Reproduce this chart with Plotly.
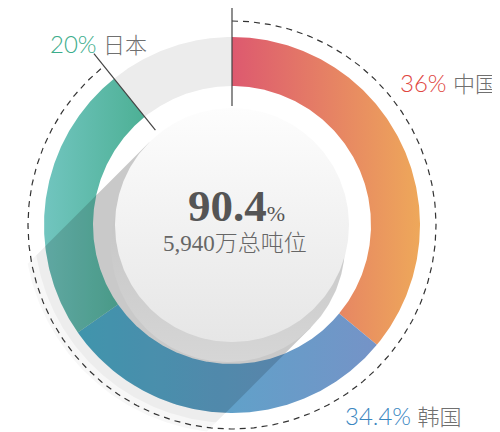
import numpy as np
import plotly.graph_objects as go

# ---------------- data ----------------
regions = ["中国", "韩国", "日本"]
label_pcts = ["36%", "34.4%", "20%"]
arc_shares = [36.0, 29.3, 23.9]          # angular share of each coloured arc as drawn
rest_share = 100 - sum(arc_shares)        # light grey remainder
total_pct = "90.4"
center_caption = "5,940万总吨位"

# ---------------- styles ----------------
label_colors = ["#E0473F", "#3A86BF", "#3CAD8B"]
grad_left = ["#DD596F", "#4CAFCB", "#71C5BF"]
grad_right = ["#EEA85A", "#7593C7", "#4DB095"]

W, H = 500, 432
OFF = 8  # default page margin of the html body
CX, CY = 232, 225
R_OUT, R_IN = 188, 139
R_DISK = 117
R_DASH = 204
BX, BY = 228, 245  # base of the raised centre disk


def pt(angle_deg, r, cx=CX, cy=CY):
    a = np.radians(angle_deg)
    return cx + r * np.sin(a), cy - r * np.cos(a)


def arc(a0, a1, r, n=240, cx=CX, cy=CY):
    a = np.linspace(a0, a1, n)
    return pt(a, r, cx, cy)


def sector(a0, a1, r_in, r_out):
    xo, yo = arc(a0, a1, r_out)
    xi, yi = arc(a1, a0, r_in)
    return np.r_[xo, xi, xo[:1]], np.r_[yo, yi, yo[:1]]


def disk(cx, cy, r):
    return arc(0, 360, r, 360, cx, cy)


def poly(x, y, **kw):
    return go.Scatter(x=x, y=y, mode="lines", fill="toself",
                      line=dict(width=0, color="rgba(0,0,0,0)"),
                      hoverinfo="skip", showlegend=False, **kw)


bounds = np.cumsum([0] + arc_shares) * 3.6
fig = go.Figure()

# long soft shadow of the centre disk
s = np.sqrt(0.5)
d = np.array([-s, s])
P1 = np.array([CX, CY]) + R_DISK * np.array([-s, -s])
P2 = np.array([BX, BY]) + R_DISK * np.array([s, s])


def hit(P, Rs):
    c = np.array([CX, CY])
    v = P - c
    b = v @ d
    t = -b + np.sqrt(b * b - (v @ v - Rs * Rs))
    return P + t * d


def shadow(Rs, col):
    Q1 = hit(P1, Rs)
    Q2 = hit(P2, Rs)
    a1 = np.degrees(np.arctan2(Q1[0] - CX, -(Q1[1] - CY))) % 360
    a2 = np.degrees(np.arctan2(Q2[0] - CX, -(Q2[1] - CY))) % 360
    ax_, ay_ = arc(a1, a2, Rs, 120)
    xs = np.r_[P1[0], Q1[0], ax_, Q2[0], P2[0], P1[0]]
    ys = np.r_[P1[1], Q1[1], ay_, Q2[1], P2[1], P1[1]]
    return poly(xs, ys, fillcolor=col)


fig.add_trace(shadow(208, "rgba(0,0,0,0.03)"))
fig.add_trace(shadow(198, "rgba(0,0,0,0.04)"))

# remainder (grey)
x, y = sector(bounds[-1], 360, R_IN, R_OUT)
fig.add_trace(poly(x, y, fillcolor="#ECECEC"))

# coloured arcs
for i in range(len(regions)):
    x, y = sector(bounds[i], bounds[i + 1], R_IN, R_OUT)
    fig.add_trace(poly(x, y, fillgradient=dict(
        type="horizontal", colorscale=[[0, grad_left[i]], [1, grad_right[i]]])))

# long shadow over the ring
fig.add_trace(shadow(R_OUT, "rgba(0,0,0,0.15)"))

# raised disk: side then face
x, y = disk(BX, BY, R_DISK)
fig.add_trace(poly(x, y, fillgradient=dict(
    type="vertical", colorscale=[[0, "#D6D6D6"], [1, "#BDBDBD"]])))
x, y = disk(CX, CY, R_DISK)
fig.add_trace(poly(x, y, fillgradient=dict(
    type="vertical", colorscale=[[0, "#E6E6E6"], [1, "#FDFDFD"]])))

# dashed arc around the coloured part
x, y = arc(0, bounds[-1], R_DASH, 400)
fig.add_trace(go.Scatter(x=x, y=y, mode="lines", hoverinfo="skip", showlegend=False,
                         line=dict(color="#333333", width=1.2, dash="6px,5px")))

# leader lines
for ang, r0, r1 in [(0, 119, 218), (bounds[-1], 122, 220)]:
    xa, ya = pt(ang, r0)
    xb, yb = pt(ang, r1)
    fig.add_trace(go.Scatter(x=[xa, xb], y=[ya, yb], mode="lines", hoverinfo="skip",
                             showlegend=False, line=dict(color="#444444", width=1.2)))

# texts
fig.add_annotation(x=236, y=206, xref="x", yref="y", showarrow=False,
                   text=f"<b>{total_pct}</b><span style='font-size:22px'>%</span>",
                   font=dict(family="Liberation Serif, DejaVu Serif", size=45, color="#555555"))
fig.add_annotation(x=235, y=243, xref="x", yref="y", showarrow=False,
                   text=center_caption,
                   font=dict(family="Liberation Serif, Noto Sans CJK SC", size=23,
                             color="#666666", weight=300))

label_pos = [(398, 82), (343, 415), (48, 43)]
for i in range(len(regions)):
    fig.add_annotation(x=label_pos[i][0], y=label_pos[i][1], xref="x", yref="y",
                       xanchor="left", showarrow=False,
                       text=(f"<span style='color:{label_colors[i]}'>{label_pcts[i]}</span> "
                             f"<span style='font-size:22px'>{regions[i]}</span>"),
                       font=dict(family="Lato, Noto Sans CJK SC", size=24,
                                 color="#707070", weight=300))

fig.update_layout(
    width=W - OFF, height=H - OFF, margin=dict(l=0, r=0, t=0, b=0),
    paper_bgcolor="white", plot_bgcolor="white",
    xaxis=dict(range=[OFF, W], visible=False, fixedrange=True),
    yaxis=dict(range=[H, OFF], visible=False, fixedrange=True),
    showlegend=False,
)
fig.write_html("out.html")
